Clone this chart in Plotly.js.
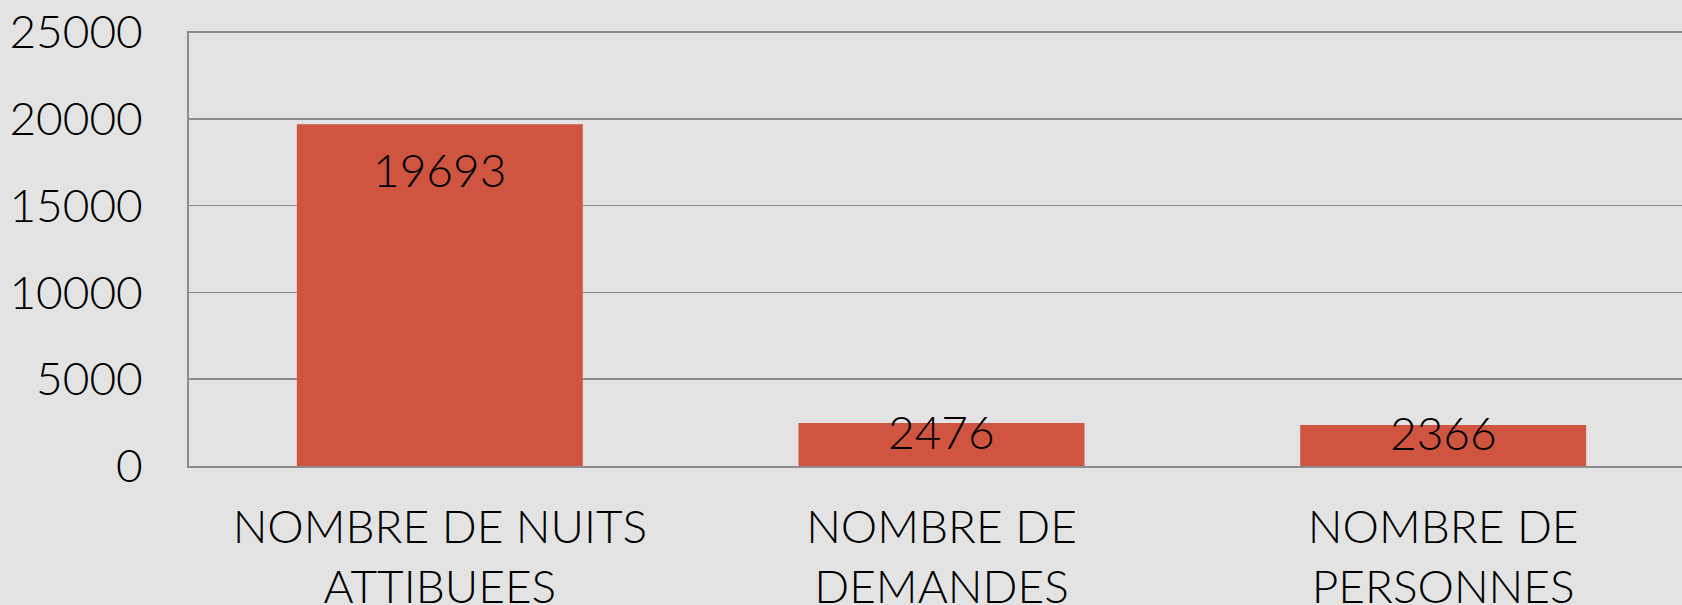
<!DOCTYPE html>
<html>
<head>
<meta charset="utf-8">
<script src="https://cdn.plot.ly/plotly-3.0.1.min.js"></script>
<style>
  html, body { margin: 0; padding: 0; overflow: hidden; background: #e3e3e3; width: 1682px; height: 605px; }
  #chart { width: 1700px; height: 605px; }
</style>
</head>
<body>
<div id="chart"></div>
<script>
const categories = ["NOMBRE DE NUITS<br>ATTIBUEES", "NOMBRE DE<br>DEMANDES", "NOMBRE DE<br>PERSONNES"];
const values = [19693, 2476, 2366];
const yTickValues = [0, 5000, 10000, 15000, 20000, 25000];

const fontFamily = "Lato, 'Liberation Sans', sans-serif";
const textFont = { family: fontFamily, size: 46, color: "#000", weight: 300 };

const trace = {
  type: "bar",
  x: categories,
  y: values,
  marker: { color: "#cf5540" },
  hoverinfo: "none"
};

const annotations = values.map((v, i) => ({
  x: categories[i],
  y: v,
  xref: "x",
  yref: "y",
  text: String(v),
  showarrow: false,
  yanchor: "middle",
  yshift: v > 10000 ? -45 : -8,
  font: textFont
}));

const layout = {
  width: 1700,
  height: 605,
  margin: { l: 189, r: 6, t: 31, b: 139 },
  paper_bgcolor: "#e3e3e3",
  plot_bgcolor: "#e3e3e3",
  showlegend: false,
  bargap: 0.43,
  font: textFont,
  xaxis: {
    type: "category",
    range: [-0.5, 2.5],
    showline: true,
    linecolor: "#8c8c8c",
    linewidth: 2,
    showgrid: false,
    zeroline: false,
    ticks: "",
    ticklabelstandoff: 20,
    tickfont: textFont,
    fixedrange: true
  },
  yaxis: {
    range: [0, 25060],
    tickvals: yTickValues,
    ticktext: yTickValues.map(String),
    showline: true,
    linecolor: "#8c8c8c",
    linewidth: 2,
    showgrid: true,
    gridcolor: "#8c8c8c",
    gridwidth: 1.5,
    zeroline: false,
    ticks: "",
    ticklabelstandoff: 35,
    tickfont: textFont,
    fixedrange: true
  },
  annotations: annotations
};

Plotly.newPlot("chart", [trace], layout, { displayModeBar: false, staticPlot: true });
</script>
</body>
</html>
